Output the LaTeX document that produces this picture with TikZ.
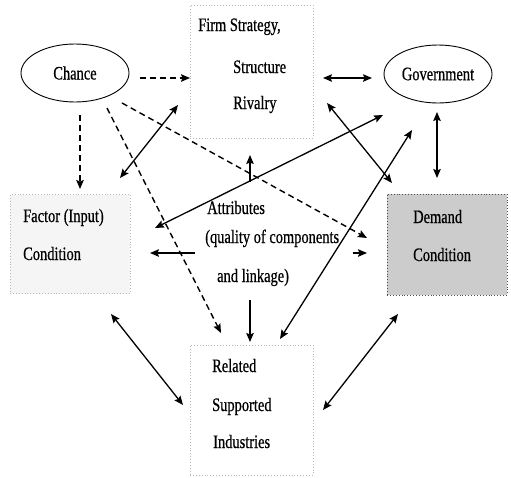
\documentclass[tikz,border=0pt]{standalone}
\usepackage{fontspec}
\setmainfont{Liberation Serif}[FakeStretch=0.76,FakeBold=0.6]
\usetikzlibrary{arrows.meta,shapes.geometric}

\tikzset{
  txt/.style={font=\fontsize{19}{21}\selectfont, inner sep=0pt, anchor=base west},
  oval/.style={draw, ellipse, line width=0.9pt, inner sep=0pt,
    minimum width=108pt, minimum height=58pt,
    font=\fontsize{19}{21}\selectfont},
  panel/.style={draw=gray!55, dotted, line width=0.9pt, inner sep=0pt},
  tip/.tip={Stealth[length=9pt,width=7.5pt,inset=1.5pt]},
  link/.style={line width=1.3pt, -tip},
  both/.style={line width=1.3pt, tip-tip},
  chancelink/.style={link, line width=1.4pt, dash pattern=on 6pt off 4pt}
}

\begin{document}
\begin{tikzpicture}[x=1pt,y=-1pt]
\useasboundingbox[fill=white] (0,0) rectangle (511,477);

% the four diamond boxes
\node[panel, minimum width=123pt, minimum height=133pt] (firm) at (251.5,71.5) {};
\node[panel, fill=gray!8, minimum width=120pt, minimum height=99pt] (factor) at (70,244) {};
\node[draw=black!70, dotted, line width=0.9pt, fill=gray!40, inner sep=0pt,
      minimum width=120pt, minimum height=101pt] (demand) at (447,244.5) {};
\node[panel, minimum width=123pt, minimum height=130pt] (related) at (251.5,410) {};

% texts of the boxes
\node[txt] (firm1) at (198,31) {Firm Strategy,};
\node[txt] (firm2) at (233,73) {Structure};
\node[txt] (firm3) at (233,109) {Rivalry};
\node[txt] (fac1) at (23,222) {Factor (Input)};
\node[txt] (fac2) at (23,260) {Condition};
\node[txt] (dem1) at (413,223) {Demand};
\node[txt] (dem2) at (413,261) {Condition};
\node[txt] (rel1) at (212,372) {Related};
\node[txt] (rel2) at (212,411) {Supported};
\node[txt] (rel3) at (213,448) {Industries};

% the two outside forces
\node[oval] (chance) at (75,73) {Chance};
\node[oval] (gov) at (438,74) {Government};

% attributes in the middle
\node[txt] (attr1) at (207,214) {Attributes};
\node[txt] (attr2) at (205,243) {(quality of components};
\node[txt] (attr3) at (217,282) {and linkage)};

% end points of the connectors
\coordinate (c1a) at (140,78);  \coordinate (c1b) at (190,78);
\coordinate (c2a) at (80,115);  \coordinate (c2b) at (80,189);
\coordinate (c3a) at (107,108); \coordinate (c3b) at (221,333);
\coordinate (c4a) at (122,103); \coordinate (c4b) at (367,238);

\coordinate (b1a) at (178,105); \coordinate (b1b) at (120,178);
\coordinate (b2a) at (323,78);  \coordinate (b2b) at (372,78);
\coordinate (b3a) at (327,103); \coordinate (b3b) at (392,183);
\coordinate (b4a) at (437,112); \coordinate (b4b) at (437,178);
\coordinate (b5a) at (383,115); \coordinate (b5b) at (155,228);
\coordinate (b6a) at (412,130); \coordinate (b6b) at (280,339);
\coordinate (b7a) at (323,410); \coordinate (b7b) at (398,314);
\coordinate (b8a) at (111,314); \coordinate (b8b) at (183,405);

\coordinate (a1a) at (250,182); \coordinate (a1b) at (250,155);
\coordinate (a2a) at (195,253); \coordinate (a2b) at (150,253);
\coordinate (a3a) at (353,253); \coordinate (a3b) at (367,253);
\coordinate (a4a) at (250,300); \coordinate (a4b) at (250,342);

% chance acts on the other elements
\draw[chancelink] (c1a) -- (c1b);
\draw[chancelink] (c2a) -- (c2b);
\draw[chancelink] (c3a) -- (c3b);
\draw[chancelink] (c4a) -- (c4b);

% two-way links
\draw[both] (b1a) -- (b1b);
\draw[both] (b2a) -- (b2b);
\draw[both] (b3a) -- (b3b);
\draw[both] (b4a) -- (b4b);
\draw[both] (b5a) -- (b5b);
\draw[both] (b6a) -- (b6b);
\draw[both] (b7a) -- (b7b);
\draw[both] (b8a) -- (b8b);

% attributes feed the four boxes
\draw[link] (a1a) -- (a1b);
\draw[link] (a2a) -- (a2b);
\draw[link] (a3a) -- (a3b);
\draw[link] (a4a) -- (a4b);
\end{tikzpicture}
\end{document}
